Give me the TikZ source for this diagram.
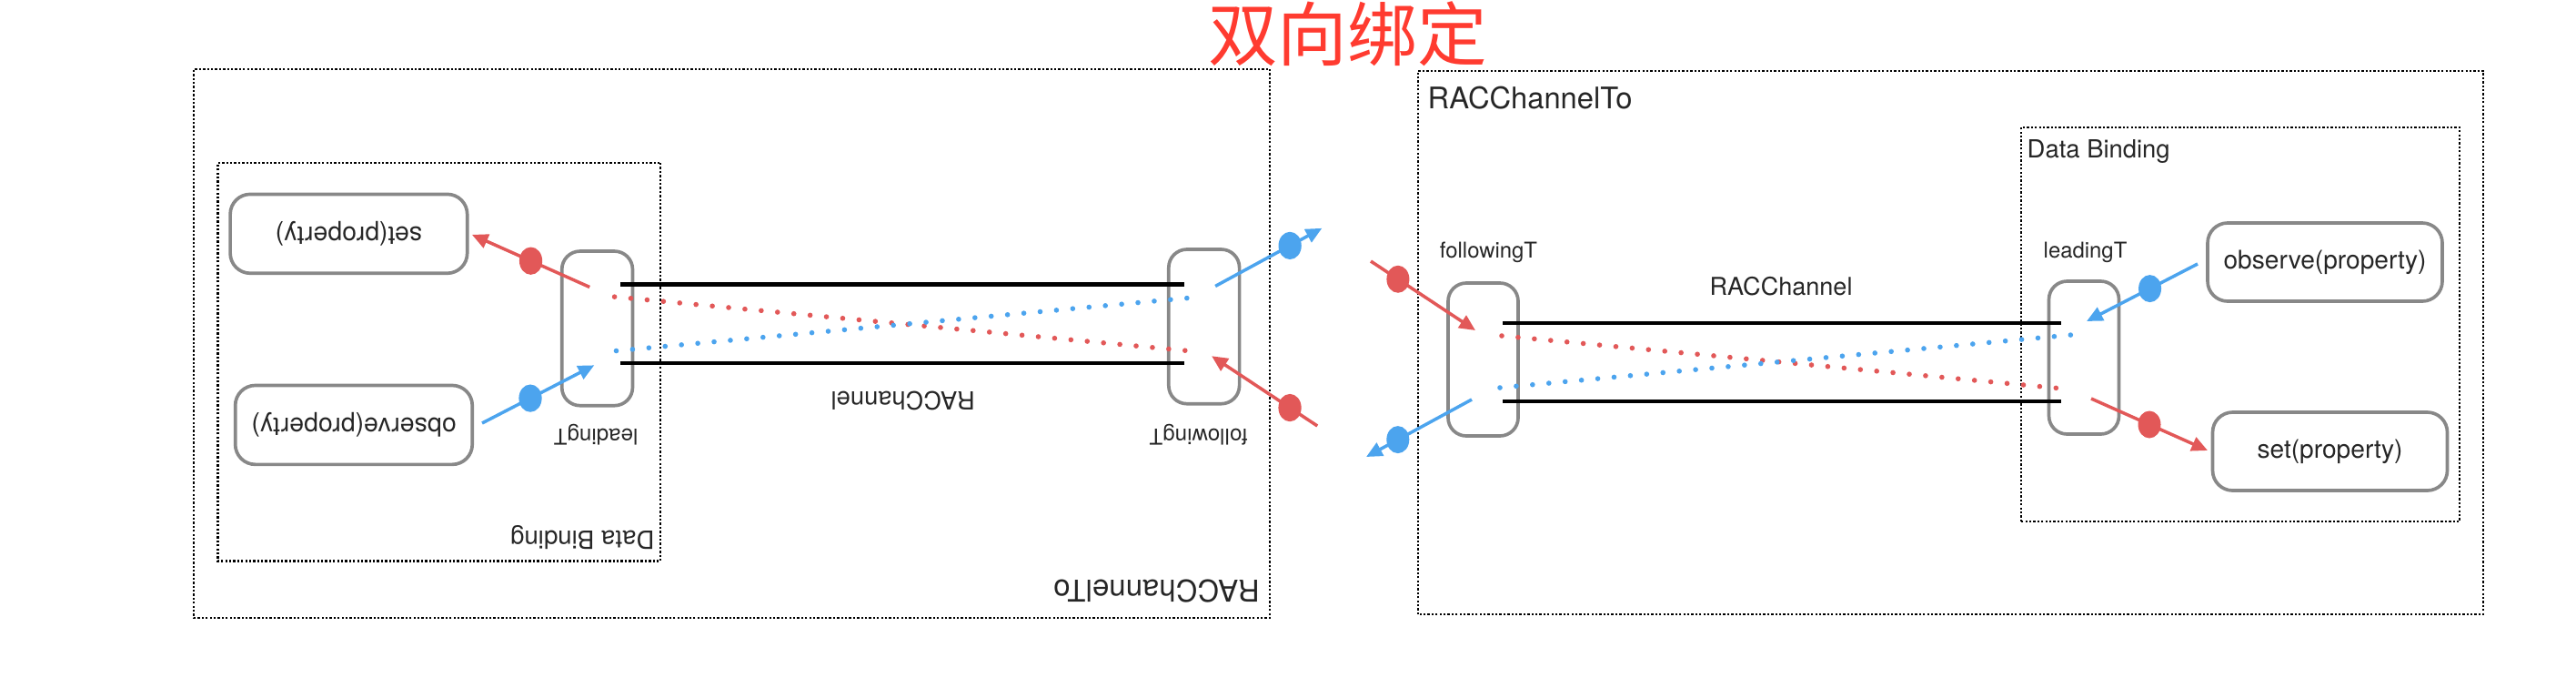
\documentclass[tikz,border=0pt]{standalone}
\usepackage{fontspec}
\setmainfont{TeX Gyre Heros}
\newfontfamily\cjkfont{Noto Sans CJK SC}
\usetikzlibrary{arrows.meta,shapes.geometric}

\definecolor{sigred}{RGB}{226,88,88}
\definecolor{sigblue}{RGB}{76,164,238}
\definecolor{termgray}{RGB}{136,136,136}
\definecolor{titlered}{RGB}{255,59,48}

\tikzset{
  dotbox/.style={draw=black, line width=0.65pt, dash pattern=on 0.65pt off 0.6pt},
  terminal/.style={draw=termgray, line width=1.05pt, rounded corners=0.2cm,
    minimum width=0.77cm, minimum height=1.68cm, inner sep=0pt},
  opbox/.style={draw=termgray, line width=1.05pt, rounded corners=0.22cm,
    minimum width=2.58cm, minimum height=0.86cm, text=black!85,
    font=\fontsize{8}{9.6}\selectfont},
  lbl/.style={inner sep=0pt, text=black!85},
  pipe/.style={line width=1.2pt, black},
  flow/.style={line width=1.6pt, line cap=round, dash pattern=on 0pt off 0.18cm},
  sig/.style={line width=1pt, -{Triangle[length=5pt,width=4.5pt]}},
  sigdot/.style={ellipse, inner sep=0pt, minimum width=0.25cm, minimum height=0.3cm}
}

% one end of the two-way binding
\newcommand{\channelend}{
  \draw[dotbox] (15.59,0.80) rectangle (27.30,6.77);
  \node[lbl, anchor=base west, font=\fontsize{9.3}{11}\selectfont] (to) at (15.69,6.36) {RACChannelTo};
  \draw[dotbox] (22.22,1.82) rectangle (27.04,6.15);
  \node[lbl, anchor=base west, font=\fontsize{7.8}{9}\selectfont] (db) at (22.28,5.82) {Data Binding};

  \node[terminal] (ft) at (16.305,3.60) {};
  \node[lbl, anchor=base, font=\fontsize{6.8}{8}\selectfont] (ftname) at (16.365,4.72) {followingT};
  \node[terminal] (lt) at (22.91,3.62) {};
  \node[lbl, anchor=base, font=\fontsize{6.8}{8}\selectfont] (ltname) at (22.925,4.72) {leadingT};
  \node[lbl, anchor=base, font=\fontsize{7.7}{9}\selectfont] (chan) at (19.58,4.31) {RACChannel};

  \node[opbox] (obs) at (25.56,4.67) {observe(property)};
  \node[opbox] (set) at (25.615,2.59) {set(property)};

  \coordinate (pipeA) at (16.52,4.00);
  \coordinate (pipeB) at (22.66,4.00);
  \coordinate (pipeC) at (16.52,3.14);
  \coordinate (pipeD) at (22.66,3.14);
  \draw[pipe] (pipeA) -- (pipeB);
  \draw[pipe] (pipeC) -- (pipeD);

  \coordinate (red1) at (16.51,3.86);
  \coordinate (red2) at (22.78,3.27);
  \coordinate (blue1) at (16.49,3.29);
  \coordinate (blue2) at (22.77,3.87);
  \draw[flow, sigred] (red1) -- (red2);
  \draw[flow, sigblue] (blue1) -- (blue2);

  \coordinate (obsout) at (24.16,4.65);
  \coordinate (ltin) at (22.94,4.02);
  \coordinate (ltout) at (22.99,3.17);
  \coordinate (setin) at (24.27,2.60);
  \coordinate (farin) at (15.07,4.68);
  \coordinate (ftin) at (16.22,3.92);
  \coordinate (ftout) at (16.18,3.16);
  \coordinate (farout) at (15.02,2.53);
  \draw[sig, sigblue] (obsout) -- (ltin) node[sigdot, fill=sigblue, pos=0.43] (obsdot) {};
  \draw[sig, sigred] (ltout) -- (setin) node[sigdot, fill=sigred, pos=0.5] (setdot) {};
  \draw[sig, sigred] (farin) -- (ftin) node[sigdot, fill=sigred, pos=0.26] (indot) {};
  \draw[sig, sigblue] (ftout) -- (farout) node[sigdot, fill=sigblue, pos=0.7] (outdot) {};
}

\begin{document}
\begin{tikzpicture}
  \useasboundingbox (0,0) rectangle (28.32,7.55);

  \node[text=titlered, font=\cjkfont\fontsize{21.8}{26}\selectfont] (title) at (14.815,7.175) {双向绑定};

  \begin{scope}[name prefix=R-]
    \channelend
  \end{scope}

  % the other end, turned upside down
  \begin{scope}[name prefix=L-, shift={(29.705,7.5975)}, scale=-1.01, transform shape]
    \channelend
  \end{scope}

\end{tikzpicture}
\end{document}
